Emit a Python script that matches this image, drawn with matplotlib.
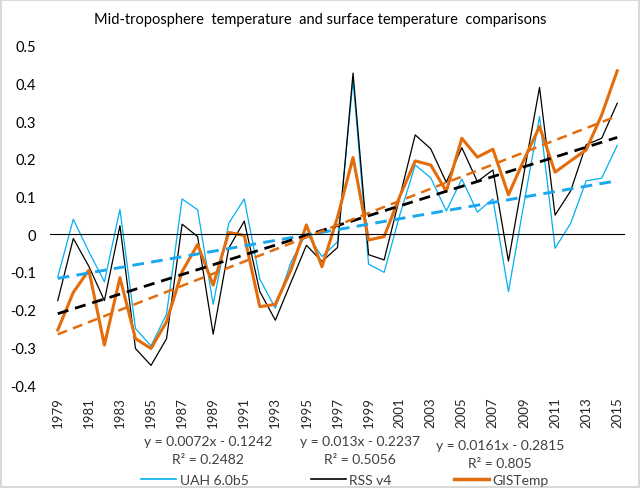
import matplotlib
matplotlib.use("Agg")
import matplotlib.pyplot as plt
from matplotlib.lines import Line2D
import numpy as np

plt.rcParams['font.family'] = ['Lato', 'DejaVu Sans']

years = list(range(1979, 2016))

uah = [-0.113, 0.040, -0.046, -0.126, 0.066, -0.250, -0.296, -0.212, 0.094, 0.065,
       -0.186, 0.029, 0.094, -0.119, -0.196, -0.075, 0.003, -0.059, -0.020, 0.410,
       -0.079, -0.101, 0.050, 0.184, 0.150, 0.062, 0.147, 0.059, 0.094, -0.152,
       0.082, 0.313, -0.037, 0.029, 0.142, 0.149, 0.236]

rss = [-0.176, -0.011, -0.085, -0.176, 0.023, -0.303, -0.348, -0.277, 0.027, -0.006,
       -0.265, -0.037, 0.035, -0.152, -0.228, -0.128, -0.029, -0.072, -0.035, 0.428,
       -0.054, -0.068, 0.098, 0.264, 0.227, 0.138, 0.230, 0.140, 0.171, -0.071,
       0.162, 0.390, 0.051, 0.115, 0.238, 0.255, 0.348]

gis = [-0.254, -0.154, -0.095, -0.294, -0.115, -0.277, -0.303, -0.232, -0.099, -0.027,
       -0.135, 0.005, -0.003, -0.192, -0.186, -0.095, 0.025, -0.086, 0.045, 0.204,
       -0.015, -0.006, 0.100, 0.195, 0.184, 0.114, 0.255, 0.205, 0.226, 0.105,
       0.198, 0.286, 0.165, 0.195, 0.224, 0.317, 0.434]

# excel trendline coefficients (x = 1..37)
slopes = [0.0072, 0.013, 0.0161]
intercepts = [-0.1242, -0.2237, -0.2815]
r2 = ['0.2482', '0.5056', '0.805']
slope_txt = ['0.0072', '0.013', '0.0161']
icpt_txt = ['0.1242', '0.2237', '0.2815']

names = ['UAH 6.0b5', 'RSS v4', 'GISTemp']
blue = '#00B0F0'
orange = '#E46C0A'

fig = plt.figure(figsize=(6.4, 4.89), dpi=100)
fig.patch.set_edgecolor('#D9D9D9')
fig.patch.set_linewidth(1.5)
ax = fig.add_axes([50/640, 1-386/489, 575/640, 339/489])

idx = np.arange(len(years))
ax.plot(idx, uah, color=blue, lw=0.9)
ax.plot(idx, rss, color='black', lw=0.9)
ax.plot(idx, gis, color=orange, lw=2.2)

xt = idx + 1
ax.plot(idx, slopes[0]*xt + intercepts[0], color='#1AA7EC', lw=2.1, dashes=(4, 2.5))
ax.plot(idx, slopes[1]*xt + intercepts[1], color='black', lw=2.0, dashes=(4, 2.5))
ax.plot(idx, slopes[2]*xt + intercepts[2], color=orange, lw=1.8, dashes=(4, 2.5))

ax.axhline(0, color='black', lw=0.8)

ax.set_xlim(-0.5, len(years) - 0.5)
ax.set_ylim(-0.4, 0.5)
yt = np.round(np.arange(-0.4, 0.51, 0.1), 1)
ax.set_yticks(yt)
ax.set_yticklabels(['0' if v == 0 else f'{v:g}' for v in yt], fontsize=10.5)
ax.set_xticks(idx[::2])
ax.set_xticklabels([str(y) for y in years[::2]], rotation=90, fontsize=9.5, color='#262626')
ax.tick_params(length=0)
ax.tick_params(axis='y', pad=10)
ax.tick_params(axis='x', pad=8)
for s in ax.spines.values():
    s.set_visible(False)

fig.text(0.5, 1-20/489, 'Mid-troposphere  temperature  and surface temperature  comparisons',
         ha='center', va='center', fontsize=10.5)

eq_x = [208, 360, 500]
eq_y = [442, 442, 446]
for i in range(3):
    fig.text(eq_x[i]/640, 1-eq_y[i]/489, f'y = {slope_txt[i]}x - {icpt_txt[i]}',
             ha='center', va='center', fontsize=10, color='#404040')
    fig.text(eq_x[i]/640, 1-(eq_y[i]+18)/489, f'R² = {r2[i]}',
             ha='center', va='center', fontsize=10, color='#404040')

handles = [Line2D([], [], color=blue, lw=1.2),
           Line2D([], [], color='black', lw=1.2),
           Line2D([], [], color=orange, lw=2.5)]
fig.legend(handles, names, loc='center', bbox_to_anchor=(345/640, 1-481/489),
           ncol=3, frameon=False, fontsize=10, handlelength=2.5, handletextpad=0.25,
           columnspacing=4.5, labelcolor='#404040')

fig.savefig('out.png', dpi=100)
